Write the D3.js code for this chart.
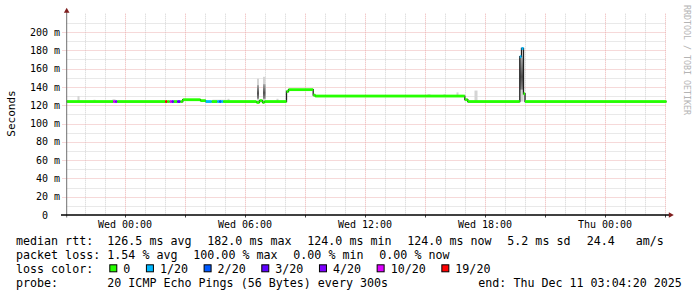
<!DOCTYPE html>
<html><head><meta charset="utf-8">
<script src="https://cdn.jsdelivr.net/npm/d3@7"></script>
<style>
body{margin:0;background:#fff}
svg{display:block}
text{font-family:"DejaVu Sans Mono",monospace;fill:#000}
</style>
</head><body>
<svg id="c" width="697" height="297"></svg>
<script>
// ---------------- data ----------------
const endTime = new Date(Date.UTC(2025, 11, 11, 3, 4, 20));
const spanHours = 30;
// median rtt steps: start (hours after graph start), median (ms), lost pings (of 20)
const stepStart  = [0, 2.335, 2.435, 2.535, 4.935, 5.035, 5.165, 5.265, 5.365, 5.535, 5.7, 5.815, 6.7, 6.965, 7.265, 7.535, 7.635, 7.735, 7.835, 9.5, 9.65, 9.8, 9.9, 11.0, 11.1, 12.335, 12.435, 19.915, 20.065, 22.665, 22.75, 22.85, 22.925];
const stepMedian = [124, 124, 124, 124, 124, 124, 124, 124, 124, 124, 124, 126, 125, 124, 124, 124, 124, 124, 124, 123, 125, 123, 124, 135, 137, 131, 130, 126, 124, 173, 182, 132.5, 124];
const stepLoss   = [0, 10, 4, 0, 19, 0, 10, 3, 0, 3, 0, 0, 0, 1, 0, 1, 2, 1, 0, 0, 0, 0, 0, 0, 0, 0, 0, 0, 0, 1, 1, 0, 0];
// smoke (spread of the individual pings)
const smokeStart = [0.55, 1.35, 2.3, 7.3, 8.05, 9.525, 9.825, 10.5, 18.05, 18.85, 19.5, 20.4, 22.665];
const smokeEnd   = [0.65, 1.45, 2.45, 8.0, 8.15, 9.625, 9.95, 10.6, 18.2, 18.95, 19.6, 20.55, 22.85];
const smokeLow   = [124, 124, 124, 124, 124, 123, 123, 124, 130, 130, 130, 124, 124];
const smokeHigh  = [130, 126, 126.5, 126, 127, 149, 151, 127, 132, 132, 134, 136, 174];
const coreLow    = [null, null, null, null, null, 127, 127, null, null, null, null, null, 137];
const coreHigh   = [null, null, null, null, null, 142, 143, null, null, null, null, null, 172];

const yMax = 220;
const yLabelTicks = [0, 20, 40, 60, 80, 100, 120, 140, 160, 180, 200];
const yMinorTicks = [10, 30, 50, 70, 90, 110, 130, 150, 170, 190, 210];

const lossSteps  = [0, 1, 2, 3, 4, 10, 19];
const lossLabels = ["0", "1/20", "2/20", "3/20", "4/20", "10/20", "19/20"];
const lossColors = ["#26ff00", "#00b8ff", "#0059ff", "#5e00ff", "#7e00ff", "#dd00ff", "#ff0000"];

const rttTitle = "median rtt:";
const rttStats = ["126.5 ms avg", "182.0 ms max", "124.0 ms min", "124.0 ms now", "5.2 ms sd", "24.4", "am/s"];
const lossTitle = "packet loss:";
const lossStats = ["1.54 % avg", "100.00 % max", "0.00 % min", "0.00 % now"];
const colorTitle = "loss color:";
const probeTitle = "probe:";
const probeText = "20 ICMP Echo Pings (56 Bytes) every 300s";
const endText = "end: Thu Dec 11 03:04:20 2025";
const yTitle = "Seconds";
const watermark = "RRDTOOL / TOBI OETIKER";

// ---------------- layout ----------------
const startTime = new Date(endTime.getTime() - spanHours * 3600e3);
const hToDate = h => new Date(startTime.getTime() + h * 3600e3);
const X0 = 66.5, X1 = 666.5, Y0 = 215, Y1 = 13.7;
const x = d3.scaleUtc().domain([startTime, endTime]).range([X0, X1]);
const y = d3.scaleLinear().domain([0, yMax]).range([Y0, Y1]);
const svg = d3.select("#c");

const lossColor = l => {
  let c = lossColors[0];
  lossSteps.forEach((s, i) => { if (l >= s) c = lossColors[i]; });
  return c;
};

// grid
const g = svg.append("g");
const minorGrid = "#d2d2d2", majorGrid = "#ecb2b2";
x.ticks(d3.utcHour.every(1)).forEach(t => {
  if (t.getUTCHours() % 3 === 0) return;
  g.append("line").attr("x1", Math.round(x(t)) + 0.5).attr("x2", Math.round(x(t)) + 0.5)
    .attr("y1", Y1).attr("y2", Y0).attr("stroke", minorGrid).attr("stroke-dasharray", "1,1");
});
yMinorTicks.forEach(v => {
  g.append("line").attr("x1", X0).attr("x2", X1).attr("y1", Math.round(y(v)) + 0.5).attr("y2", Math.round(y(v)) + 0.5)
    .attr("stroke", minorGrid).attr("stroke-dasharray", "1,1");
});
x.ticks(d3.utcHour.every(3)).forEach(t => {
  const xx = Math.round(x(t)) + 0.5;
  g.append("line").attr("x1", xx).attr("x2", xx).attr("y1", Y1).attr("y2", Y0)
    .attr("stroke", majorGrid).attr("stroke-dasharray", "1,1");
  g.append("line").attr("x1", xx).attr("x2", xx).attr("y1", Y0).attr("y2", Y0 + 2.5)
    .attr("stroke", "#444");
});
yLabelTicks.filter(v => v > 0).forEach(v => {
  const yy = Math.round(y(v)) + 0.5;
  g.append("line").attr("x1", X0 - 4).attr("x2", X1).attr("y1", yy).attr("y2", yy)
    .attr("stroke", majorGrid).attr("stroke-dasharray", "1,1");
});

// smoke
const defs = svg.append("defs");
const grad = defs.append("linearGradient").attr("id", "core").attr("x1", 0).attr("y1", 0).attr("x2", 0).attr("y2", 1);
grad.append("stop").attr("offset", "0%").attr("stop-color", "#a8a8a8");
grad.append("stop").attr("offset", "60%").attr("stop-color", "#505050");
grad.append("stop").attr("offset", "100%").attr("stop-color", "#8a8a8a");
const smoke = svg.append("g");
smokeStart.forEach((s, i) => {
  const xa = x(hToDate(s)), xb = x(hToDate(smokeEnd[i]));
  smoke.append("rect").attr("x", xa).attr("width", xb - xa)
    .attr("y", y(smokeHigh[i])).attr("height", y(smokeLow[i]) - y(smokeHigh[i]))
    .attr("fill", "#d4d4d4");
  if (coreLow[i] != null) {
    smoke.append("rect").attr("x", xa).attr("width", xb - xa)
      .attr("y", y(coreHigh[i])).attr("height", y(coreLow[i]) - y(coreHigh[i]))
      .attr("fill", "url(#core)");
  }
});

// median dark step line
const pts = stepStart.map((s, i) => [hToDate(s), stepMedian[i]]);
pts.push([endTime, stepMedian[stepMedian.length - 1]]);
svg.append("path").attr("d", d3.line().x(d => x(d[0])).y(d => y(d[1])).curve(d3.curveStepAfter)(pts))
  .attr("fill", "none").attr("stroke", "#202020").attr("stroke-width", 1.3);

// loss-coloured median bars
const bars = svg.append("g");
stepStart.forEach((s, i) => {
  const e = i + 1 < stepStart.length ? stepStart[i + 1] : spanHours;
  const xa = x(hToDate(s)), xb = x(hToDate(e));
  bars.append("rect").attr("x", xa).attr("width", xb - xa)
    .attr("y", y(stepMedian[i]) - 1.4).attr("height", 2.8)
    .attr("fill", lossColor(stepLoss[i]));
});

// axes
svg.append("line").attr("x1", 66.7).attr("x2", 66.7).attr("y1", 12).attr("y2", 217.5)
  .attr("stroke", "#707070").attr("stroke-width", 1);
svg.append("line").attr("x1", 61).attr("x2", 670).attr("y1", Y0).attr("y2", Y0)
  .attr("stroke", "#000").attr("stroke-width", 1.4);
svg.append("path").attr("d", "M66.7,7.8 L69.5,12.8 L63.9,12.8 Z").attr("fill", "#7f1e1e");
svg.append("path").attr("d", "M673.8,215 L668.8,212.2 L668.8,217.8 Z").attr("fill", "#7f1e1e");

// y labels
yLabelTicks.forEach(v => {
  const t = v === 0 ? "0" : v + " m";
  svg.append("text").attr("x", v === 0 ? 60 - 12.04 : 60).attr("y", y(v) + 3.6)
    .attr("text-anchor", "end").attr("font-size", "10px").text(t);
});
// x labels
x.ticks(d3.utcHour.every(6)).forEach(t => {
  svg.append("text").attr("x", x(t)).attr("y", 227.5).attr("text-anchor", "middle")
    .attr("font-size", "10px").text(d3.utcFormat("%a %H:%M")(t));
});
// y title
svg.append("text").attr("transform", "translate(15,113.5) rotate(-90)").attr("text-anchor", "middle")
  .attr("font-size", "11px").text(yTitle);
// watermark
svg.append("text").attr("transform", "translate(683.6,5) rotate(90)")
  .attr("font-size", "8.3px").style("fill", "#b4b4b4").text(watermark);

// legend
const LF = "11.66px", CW = 7.02;
const leg = svg.append("g").attr("font-size", LF);
const rttX = [107.3, 207.3, 307.3, 407.3, 507.3, 586.7, 635.7];
leg.append("text").attr("x", 16).attr("y", 244.5).text(rttTitle);
rttStats.forEach((s, i) => leg.append("text").attr("x", rttX[i]).attr("y", 244.5).text(s));
const lossX = [107.3, 193.3, 293.3, 379.3];
leg.append("text").attr("x", 16).attr("y", 258.5).text(lossTitle);
lossStats.forEach((s, i) => leg.append("text").attr("x", lossX[i]).attr("y", 258.5).text(s));
leg.append("text").attr("x", 16).attr("y", 272.5).text(colorTitle);
let lx = 109.3;
lossLabels.forEach((l, i) => {
  leg.append("rect").attr("x", lx + 0.5).attr("y", 264.8).attr("width", 7).attr("height", 7)
    .attr("fill", lossColors[i]).attr("stroke", "#000").attr("stroke-width", 1);
  leg.append("text").attr("x", lx + 14).attr("y", 272.5).text(l);
  lx += 14 + l.length * CW + 15.6;
});
leg.append("text").attr("x", 16).attr("y", 286.5).text(probeTitle);
leg.append("text").attr("x", 107.3).attr("y", 286.5).text(probeText);
leg.append("text").attr("x", 478.3).attr("y", 286.5).text(endText);
</script>
</body></html>
